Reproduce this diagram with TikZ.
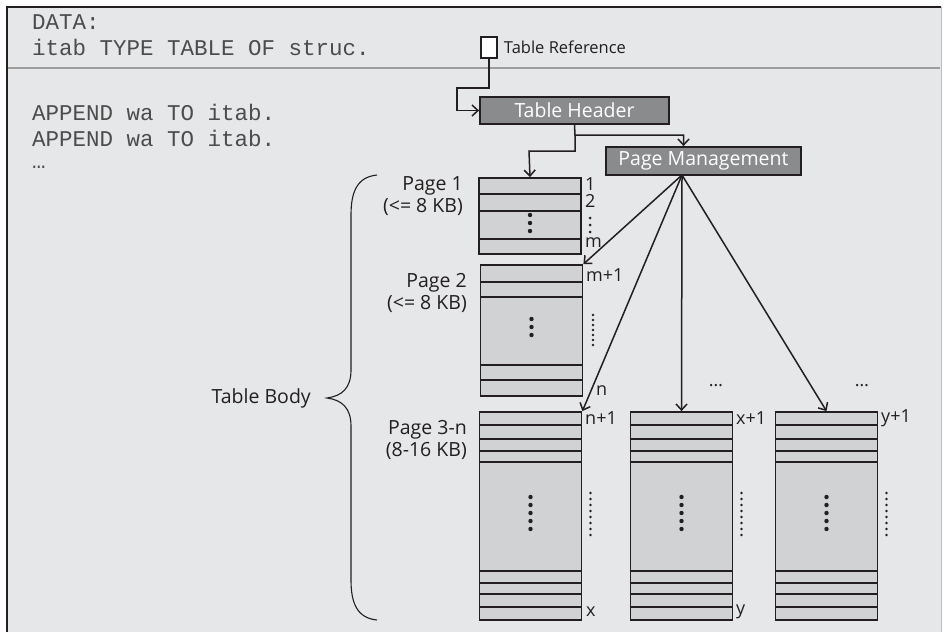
\documentclass[tikz,border=0pt]{standalone}
\usepackage{fontspec}
\setmainfont{Open Sans}
\setmonofont{Liberation Mono}
\usetikzlibrary{arrows.meta,positioning}

\definecolor{bgray}{HTML}{E6E7E8}
\definecolor{pgray}{HTML}{D1D2D4}
\definecolor{hgray}{HTML}{8A8B8D}
\definecolor{ink}{HTML}{231F20}
\definecolor{sepgray}{HTML}{9D9D9D}

\tikzset{
  pagebox/.style={draw=ink, fill=pgray, line width=1.8pt, minimum width=102pt, inner sep=0pt},
  headbox/.style={draw=ink, fill=hgray, line width=1.8pt, text=white, inner sep=0pt,
    font=\fontsize{19.5}{22}\selectfont},
  rowline/.style={draw=ink, line width=1.6pt},
  link/.style={draw=ink, line width=1.5pt, -{Straight Barb[length=6pt,width=11pt,line width=1.5pt]}},
  code/.style={font=\ttfamily\fontsize{22.5}{26}\selectfont, text=black!70, anchor=west, inner sep=0pt},
  lbl/.style={font=\fontsize{18}{21}\selectfont, text=ink, inner sep=0pt},
  sizelbl/.style={font=\fontsize{19.5}{21.5}\selectfont, text=ink, inner sep=0pt, align=right, anchor=east},
}

\begin{document}
\begin{tikzpicture}[x=1pt, y=-1pt]
  \useasboundingbox (0,0) rectangle (944,632);

  % frame
  \fill[bgray] (7,7) rectangle (941,632);
  \draw[ink, line width=1.5pt] (7,632) -- (7,7) -- (941,7);
  \draw[black!25, line width=1pt] (941,7) -- (941,632);
  \draw[sepgray, line width=2.5pt] (8,68) -- (940,68);

  % ABAP code
  \node[code] (d1) at (32,22) {DATA:};
  \node[code] (d2) at (32,47) {itab TYPE TABLE OF struc.};
  \node[code] (a1) at (32,112) {APPEND wa TO itab.};
  \node[code] (a2) at (32,138) {APPEND wa TO itab.};
  \node[code] (a3) at (32,167) {…};

  % reference and header
  \node[draw=ink, fill=white, line width=1.5pt, minimum width=16pt, minimum height=21pt, inner sep=0pt] (tr) at (489,47.5) {};
  \node[lbl, right=6pt of tr, font=\fontsize{16.5}{20}\selectfont] (trl) {Table Reference};
  \node[headbox, minimum width=189pt, minimum height=27pt] (th) at (574.5,110.5) {Table Header};
  \node[headbox, minimum width=195pt, minimum height=28pt] (pm) at (703.5,161) {Page Management};

  % pages
  \node[pagebox, minimum height=76pt] (pg1) at (530,216) {};
  \foreach \y in {194,211,239}
    \draw[rowline] (pg1.west |- 0,\y) -- (pg1.east |- 0,\y);
  \foreach \y in {215,223,231} \fill[ink] (530,\y) circle (2.2pt);
  \foreach \y in {218,225,232} \fill[ink] (590,\y) circle (1.5pt);

  \node[pagebox, minimum height=131pt] (pg2) at (531.5,330.5) {};
  \foreach \y in {282,297,365,380}
    \draw[rowline] (pg2.west |- 0,\y) -- (pg2.east |- 0,\y);
  \foreach \y in {319,327,335} \fill[ink] (531.5,\y) circle (2.2pt);
  \foreach \y in {315,320,...,346} \fill[ink] (593,\y) circle (1.4pt);

  \foreach \nm/\cx in {pg3/530.5, pgx/681.5, pgy/826.5} {
    \node[pagebox, minimum height=208pt] (\nm) at (\cx,516) {};
    \foreach \y in {425,439,451,462,571,583,594,607}
      \draw[rowline] (\nm.west |- 0,\y) -- (\nm.east |- 0,\y);
    \foreach \y in {497,505,...,529} \fill[ink] (\cx,\y) circle (2.2pt);
    \foreach \y in {493,499,...,535} \fill[ink] (\cx+60,\y) circle (1.4pt);
  }

  % row numbers
  \node[lbl, anchor=west] (n1) at (585,184) {1};
  \node[lbl, anchor=west] (n2) at (585,201) {2};
  \node[lbl, anchor=west] (nm) at (585,243) {m};
  \node[lbl, anchor=west] (nm1) at (586,275) {m+1};
  \node[lbl, anchor=west] (nn) at (596,391) {n};
  \node[lbl, anchor=west] (nn1) at (585,418) {n+1};
  \node[lbl, anchor=west] (nx) at (586,612) {x};
  \node[lbl, anchor=west] (nx1) at (736,418) {x+1};
  \node[lbl, anchor=west] (ny) at (736,612) {y};
  \node[lbl, anchor=west] (ny1) at (881,418) {y+1};
  \node[lbl] (e1) at (716,386) {…};
  \node[lbl] (e2) at (862,386) {…};

  % page sizes
  \node[sizelbl] (s1) at (463,196) {Page 1\\(<= 8 KB)};
  \node[sizelbl] (s2) at (467,293) {Page 2\\(<= 8 KB)};
  \node[sizelbl] (s3) at (467,440) {Page 3-n\\(8-16 KB)};
  \node[lbl, anchor=east, font=\fontsize{19.5}{22}\selectfont] (tb) at (311,398) {Table Body};
  \draw[ink, line width=1.1pt] (377,175) .. controls (357,177) and (351,192) .. (351,215) -- (351,370)
    .. controls (351,388) and (342,396) .. (327,398)
    .. controls (342,400) and (351,408) .. (351,426) -- (351,580)
    .. controls (351,603) and (357,618) .. (377,620);

  % connectors
  \coordinate (split) at (575,135);
  \coordinate (pmout) at (682,175);
  \draw[link] (tr.south) |- (457,88) |- (th.west);
  \draw[link] (th.south) -- (split) -| ([xshift=-20pt]pm.north);
  \draw[link] (split) |- (529,151) -- (pg1.north);
  \draw[link] (pmout) -- (pg2.north east);
  \draw[link] (pmout) -- (pg3.north east);
  \draw[link] (pmout) -- (pgx.north);
  \draw[link] (pmout) -- (pgy.north);
\end{tikzpicture}
\end{document}
